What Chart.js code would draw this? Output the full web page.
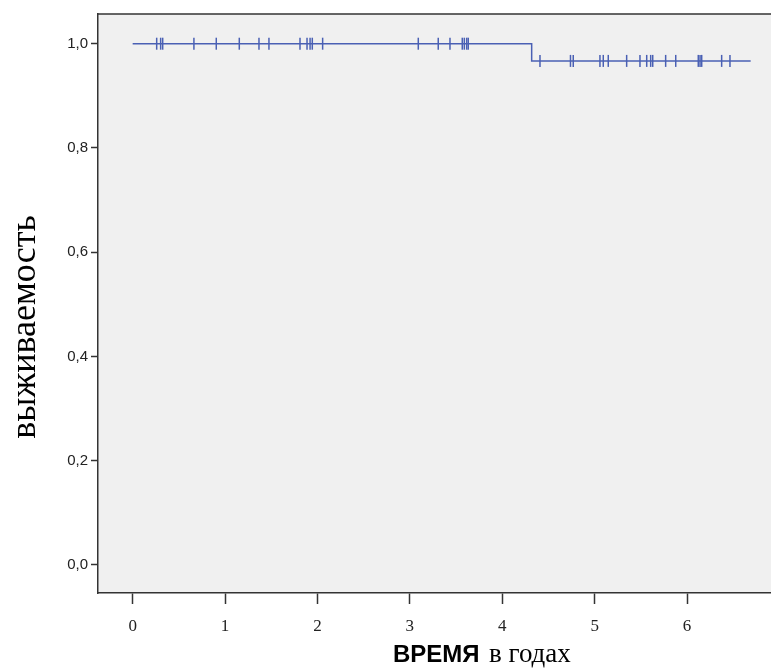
<!DOCTYPE html>
<html>
<head>
<meta charset="utf-8">
<script src="https://cdn.jsdelivr.net/npm/chart.js@4"></script>
<style>
  html, body { margin: 0; padding: 0; background: #fff; overflow: hidden; }
  #wrap { width: 771px; height: 670px; }
</style>
</head>
<body>
<div id="wrap"><canvas id="myChart" width="771" height="670"></canvas></div>
<script>
const ctx = document.getElementById('myChart').getContext('2d');

// Kaplan-Meier step: survival 1,0 until the single event, then 0,967
const stepTimes = [0, 4.318, 6.688];
const stepSurvival = [1.0, 0.967, 0.967];

// censored observations (years)
const censoredBefore = [0.26, 0.303, 0.325, 0.663, 0.905, 1.154, 1.367, 1.475, 1.811, 1.887, 1.92, 1.944, 2.056,
  3.091, 3.307, 3.434, 3.567, 3.589, 3.615, 3.632];
const censoredAfter = [4.408, 4.738, 4.768, 5.057, 5.093, 5.147, 5.346, 5.49, 5.563, 5.606, 5.628, 5.768, 5.877,
  6.121, 6.14, 6.158, 6.374, 6.464];

const xTicks = [0, 1, 2, 3, 4, 5, 6];
const yTicks = [0, 0.2, 0.4, 0.6, 0.8, 1.0];

const lineColor = '#4a60b4';

const censorPoints = censoredBefore.map(t => ({ x: t, y: stepSurvival[0] }))
  .concat(censoredAfter.map(t => ({ x: t, y: stepSurvival[1] })));

// grey plot area, top border line and the axis titles
const frame = {
  id: 'frame',
  beforeDraw(chart) {
    const { ctx, chartArea: a } = chart;
    ctx.save();
    ctx.fillStyle = '#f0f0f0';
    ctx.fillRect(a.left, a.top, a.right - a.left, a.bottom - a.top);
    ctx.strokeStyle = '#333';
    ctx.lineWidth = 1.5;
    ctx.beginPath();
    ctx.moveTo(a.left, a.top);
    ctx.lineTo(a.right, a.top);
    ctx.stroke();
    ctx.restore();
  },
  afterDraw(chart) {
    const c = chart.ctx;
    c.save();
    c.fillStyle = '#000';
    c.textBaseline = 'alphabetic';
    // y title
    c.translate(35, 327);
    c.rotate(-Math.PI / 2);
    c.textAlign = 'center';
    c.font = '36px "Liberation Serif"';
    c.fillText('выживаемость', 0, 0);
    c.restore();

    c.save();
    c.fillStyle = '#000';
    c.textAlign = 'left';
    c.textBaseline = 'alphabetic';
    c.font = 'bold 24px "Liberation Sans"';
    c.fillText('ВРЕМЯ', 393, 662);
    c.font = '27px "Liberation Serif"';
    c.fillText('в годах', 489, 662);
    c.restore();
  }
};

const data = {
  datasets: [
    {
      label: 'Функция выживания',
      data: stepTimes.map((t, i) => ({ x: t, y: stepSurvival[i] })),
      stepped: 'before',
      borderColor: lineColor,
      borderWidth: 1.5,
      pointRadius: 0,
      fill: false
    },
    {
      label: 'Цензурированные',
      type: 'scatter',
      data: censorPoints,
      pointStyle: 'line',
      rotation: 90,
      pointRadius: 6,
      borderColor: lineColor,
      backgroundColor: lineColor,
      borderWidth: 1.5
    }
  ]
};

const config = {
  type: 'line',
  data: data,
  plugins: [frame],
  options: {
    responsive: false,
    animation: false,
    layout: { autoPadding: false, padding: { top: 14, right: 0, left: 0, bottom: 0 } },
    plugins: {
      legend: { display: false },
      tooltip: { enabled: false }
    },
    scales: {
      x: {
        type: 'linear',
        min: -0.375,
        max: 6.908,
        afterBuildTicks: s => { s.ticks = xTicks.map(v => ({ value: v })); },
        afterFit: s => { s.height = 77; },
        border: { display: true, color: '#333', width: 1.5 },
        grid: { drawOnChartArea: false, tickLength: 11, color: '#333', tickColor: '#333', tickWidth: 1.5 },
        ticks: {
          padding: 12,
          color: '#222',
          font: { family: '"Liberation Serif"', size: 17 },
          callback: v => String(v)
        }
      },
      y: {
        min: -0.054,
        max: 1.057,
        afterBuildTicks: s => { s.ticks = yTicks.map(v => ({ value: v })); },
        afterFit: s => { s.width = 98; },
        border: { display: true, color: '#333', width: 1.5 },
        grid: { drawOnChartArea: false, tickLength: 7, color: '#333', tickColor: '#333', tickWidth: 1.5 },
        ticks: {
          padding: 3,
          color: '#222',
          font: { family: '"Liberation Sans"', size: 15 },
          callback: v => v.toFixed(1).replace('.', ',')
        }
      }
    }
  }
};

const myChart = new Chart(ctx, config);
</script>
</body>
</html>
